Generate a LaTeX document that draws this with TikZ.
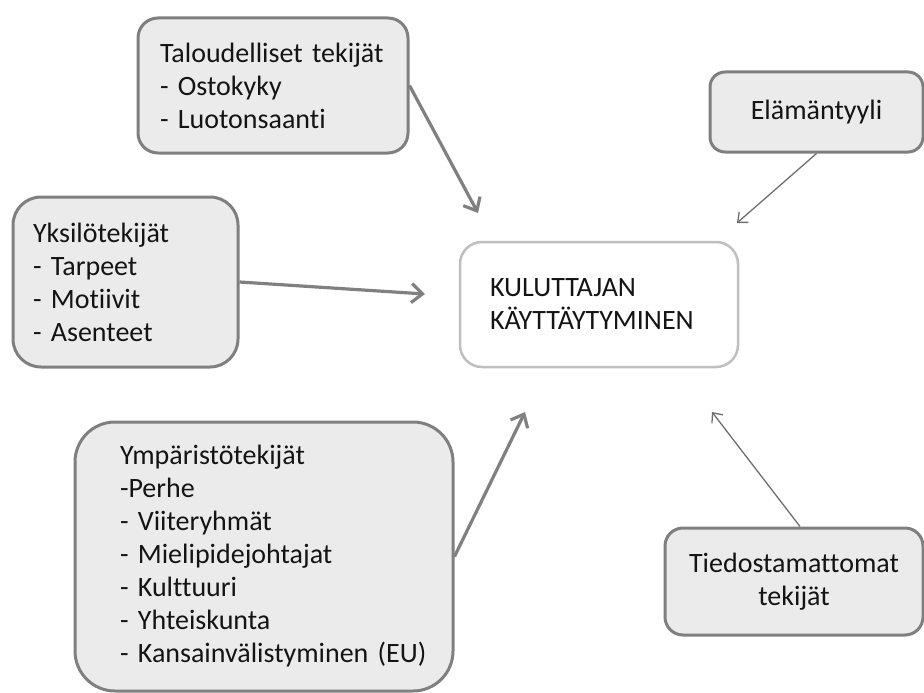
\documentclass[tikz,border=0pt]{standalone}
\usepackage{fontspec}
\setmainfont{Carlito}[Ligatures={TeX,NoCommon},WordSpace=0.7]
\usetikzlibrary{arrows.meta}
\definecolor{boxfill}{HTML}{EBEBEB}
\definecolor{boxline}{HTML}{7F7F7F}
\definecolor{coreline}{HTML}{BFBFBF}
\definecolor{arrowgrey}{HTML}{808080}
\definecolor{thinarrow}{HTML}{6E6E6E}
\definecolor{txt}{HTML}{141414}
\tikzset{
  factor/.style={draw=boxline, fill=boxfill, line width=3pt, text=txt,
    font=\fontsize{28}{33}\selectfont, inner ysep=0pt},
  core/.style={draw=coreline, fill=white, line width=2.5pt, text=txt,
    font=\fontsize{28}{33}\selectfont, inner ysep=0pt},
  bigarrow/.style={draw=arrowgrey, line width=3.2pt,
    -{Straight Barb[length=11pt,width=19pt]}},
  smallarrow/.style={draw=thinarrow, line width=1.3pt,
    -{Straight Barb[length=8pt,width=14pt]}}
}
\begin{document}
\begin{tikzpicture}[x=1pt,y=-1pt]
\useasboundingbox (0,0) rectangle (924,693);

% influencing factors
\node[factor, rounded corners=20pt, minimum height=135pt, inner xsep=22pt,
  text width=226pt, align=left] (tal) at (273,85.5)
  {\mbox{Taloudelliset tekijät}\\-~Ostokyky\\-~Luotonsaanti};
\node[factor, rounded corners=15pt, minimum width=213pt, minimum height=80pt,
  align=center] (ela) at (816.5,112) {Elämäntyyli};
\node[factor, rounded corners=28pt, minimum height=170pt, inner xsep=20pt,
  text width=185pt, align=left] (yks) at (125.5,282)
  {Yksilötekijät\\-~Tarpeet\\-~Motiivit\\-~Asenteet};
\node[factor, rounded corners=40pt, minimum height=269pt, inner xsep=45pt,
  text width=288pt, align=left] (ymp) at (264,556.5)
  {Ympäristötekijät\\-Perhe\\-~Viiteryhmät\\-~Mielipidejohtajat\\-~Kulttuuri\\-~Yhteiskunta\\\mbox{-~Kansainvälistyminen~(EU)}};
\node[factor, rounded corners=18pt, minimum width=258pt, minimum height=107pt,
  align=center] (tied) at (794,581.5) {Tiedostamattomat\\tekijät};

% consumer behaviour
\node[core, rounded corners=22pt, minimum height=125pt, inner xsep=30pt,
  text width=218pt, align=left] (ctr) at (599,304.5)
  {KULUTTAJAN\\KÄYTTÄYTYMINEN};

% arrow tips around the centre box
\coordinate (talend) at (478,213);
\coordinate (elaend) at (737,223);
\coordinate (yksend) at (425,294);
\coordinate (ympend) at (525,412);
\coordinate (tiedend) at (712,412);

\draw[bigarrow] (tal.east) -- (talend);
\draw[smallarrow] (ela.south) -- (elaend);
\draw[bigarrow] (yks.east) -- (yksend);
\draw[bigarrow] (ymp.east) -- (ympend);
\draw[smallarrow] ([xshift=6pt]tied.north) -- (tiedend);
\end{tikzpicture}
\end{document}
